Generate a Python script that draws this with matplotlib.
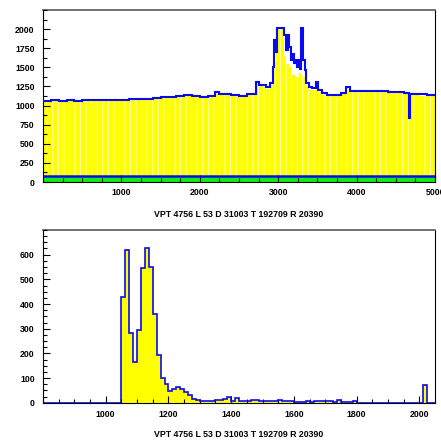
import matplotlib
matplotlib.use("Agg")
import matplotlib.pyplot as plt
from matplotlib.ticker import MultipleLocator
import numpy as np

plt.rcParams['font.family'] = ['Liberation Sans', 'DejaVu Sans']
plt.rcParams['hatch.linewidth'] = 0.6

title_text = "VPT 4756 L 53 D 31003 T 192709 R 20390"

# ---- top panel data (variable-width bins) ----
top_edges = [0, 100, 200, 300, 400, 500, 600, 700, 800, 900, 1000, 1100, 1200, 1300,
             1400, 1500, 1600, 1700, 1800, 1900, 2000, 2100, 2200, 2250, 2300, 2400,
             2500, 2600, 2700, 2720, 2750, 2800, 2850, 2900, 2930, 2950, 2970, 2990,
             3060, 3080, 3100, 3120, 3140, 3160, 3180, 3200, 3220, 3240, 3260, 3280,
             3295, 3320, 3340, 3360, 3390, 3430, 3480, 3510, 3560, 3620, 3700, 3800,
             3860, 3920, 4000, 4100, 4200, 4300, 4400, 4500, 4600, 4672, 4684, 4800,
             4900, 5000]
top_upper = [1065, 1070, 1062, 1068, 1066, 1070, 1072, 1070, 1074, 1076, 1078, 1085,
             1088, 1092, 1100, 1112, 1118, 1128, 1137, 1120, 1112, 1120, 1172, 1150,
             1148, 1142, 1124, 1152, 1146, 1311, 1275, 1265, 1240, 1300, 1500, 1856,
             1700, 2020, 2020, 1920, 1725, 1920, 1767, 1593, 1680, 1560, 1600, 1506,
             1590, 1480, 2020, 1600, 1463, 1289, 1245, 1224, 1311, 1200, 1159, 1137,
             1140, 1160, 1240, 1195, 1190, 1194, 1192, 1185, 1181, 1172, 1160, 832,
             1150, 1145, 1137]
top_fill = [1050, 1055, 1048, 1054, 1052, 1056, 1058, 1056, 1060, 1062, 1064, 1071,
            1074, 1078, 1086, 1098, 1104, 1114, 1123, 1106, 1098, 1106, 1150, 1136,
            1134, 1128, 1110, 1138, 1132, 1280, 1250, 1240, 1220, 1270, 1420, 1560,
            1700, 2020, 1856, 1650, 1550, 1550, 1500, 1480, 1400, 1400, 1376, 1376,
            1420, 1420, 1400, 1376, 1300, 1250, 1210, 1200, 1230, 1180, 1140, 1122,
            1126, 1146, 1200, 1180, 1176, 1180, 1178, 1171, 1167, 1158, 1146, 1140,
            1136, 1131, 1123]
ped_edges = [0, 5000]
ped_level = [85]

# ---- bottom panel data (100 bins of 12.5 from 800 to 2050) ----
bot_lo, bot_hi, bot_nbins = 800, 2050, 100
bot_counts = [0] * 20 + [
    430, 618, 283, 165, 295, 545, 625, 550, 360, 195,
    100, 75, 48, 55, 62, 55, 45, 30, 15, 10,
    8, 8, 8, 8, 12, 10, 15, 25, 8, 20,
    8, 8, 8, 12, 10, 6, 8, 8, 8, 8,
    10, 8, 6, 6, 4, 4, 2, 6, 3, 6,
    6, 8, 6, 7, 4, 10, 2, 2, 3, 6,
    0, 0, 0, 0, 0, 0, 0, 0, 0, 0,
    0, 0, 0, 0, 0, 0, 0, 72, 0, 0,
]

YELLOW = '#ffff00'
BLUE = '#0a0af0'
GREEN = '#10ee10'

fig = plt.figure(figsize=(4.41, 4.41), dpi=100)
ax1 = fig.add_axes([0.0975, 0.5873, 0.889, 0.39])
ax2 = fig.add_axes([0.0975, 0.0868, 0.889, 0.3917])

# top
ax1.stairs(top_fill, top_edges, fill=True, facecolor=YELLOW, edgecolor='#ffffc8',
           hatch='|||', linewidth=0, zorder=1)
ax1.stairs(top_upper, top_edges, baseline=None, color=BLUE, linewidth=1.5, zorder=3)
ax1.stairs(ped_level, ped_edges, fill=True, facecolor=GREEN, linewidth=0, zorder=2)
ax1.stairs(ped_level, ped_edges, baseline=None, color=BLUE, linewidth=1.8, zorder=3)
ax1.set_xlim(0, 5000)
ax1.set_ylim(0, 2250)
ax1.set_xticks([1000, 2000, 3000, 4000, 5000])
ax1.xaxis.set_minor_locator(MultipleLocator(250))
ax1.set_yticks([0, 250, 500, 750, 1000, 1250, 1500, 1750, 2000])
ax1.yaxis.set_minor_locator(MultipleLocator(125))

# bottom
bot_edges = np.linspace(bot_lo, bot_hi, bot_nbins + 1)
ax2.stairs(bot_counts, bot_edges, fill=True, facecolor=YELLOW, linewidth=0, zorder=1)
ax2.stairs(bot_counts, bot_edges, color=BLUE, linewidth=1.2, zorder=3)
ax2.set_xlim(bot_lo, bot_hi)
ax2.set_ylim(0, 700)
ax2.set_xticks([1000, 1200, 1400, 1600, 1800, 2000])
ax2.xaxis.set_minor_locator(MultipleLocator(50))
ax2.set_yticks([0, 100, 200, 300, 400, 500, 600])
ax2.yaxis.set_minor_locator(MultipleLocator(25))

for ax in (ax1, ax2):
    ax.tick_params(which='both', direction='in', top=False, right=False,
                   labelsize=6.3, width=0.8, colors='black')
    ax.tick_params(which='major', length=5.2)
    ax.tick_params(which='minor', length=2.6)
    ax.tick_params(axis='y', which='major', pad=6)
    ax.tick_params(axis='x', which='major', pad=4)
    for lab in ax.get_xticklabels() + ax.get_yticklabels():
        lab.set_fontweight('bold')
    for s in ('left', 'bottom', 'right'):
        ax.spines[s].set_color('black')
        ax.spines[s].set_linewidth(0.8)
    ax.spines['top'].set_color('#666666')
    ax.spines['top'].set_linewidth(1.3)
    ax.set_axisbelow(False)

ax2.tick_params(axis='x', which='major', pad=5)

fig.text(0.541, 1 - 214.5 / 441, title_text, ha='center', va='center',
         fontsize=6.3, fontweight='bold')
fig.text(0.541, 1 - 434.5 / 441, title_text, ha='center', va='center',
         fontsize=6.3, fontweight='bold')

fig.savefig('out.png', dpi=100)
